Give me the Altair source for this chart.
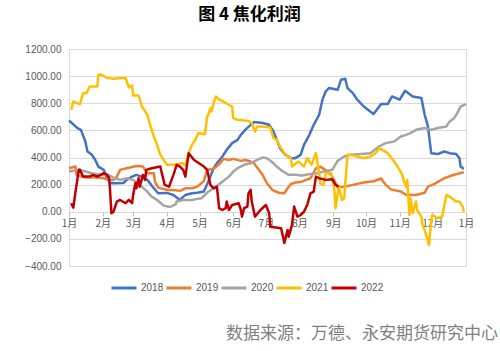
import altair as alt
import pandas as pd

TITLE = "图 4 焦化利润"
SOURCE = "数据来源：万德、永安期货研究中心"
YEARS = ["2018", "2019", "2020", "2021", "2022"]
COLORS = ["#4472C4", "#ED7D31", "#A5A5A5", "#FFC000", "#C00000"]
MONTH_TICKS = [0, 31, 59, 90, 120, 151, 181, 212, 243, 273, 304, 334, 365]
MONTH_LABELS = ["1月", "2月", "3月", "4月", "5月", "6月", "7月", "8月", "9月",
                "10月", "11月", "12月", "1月"]
Y_TICKS = [-400, -200, 0, 200, 400, 600, 800, 1000, 1200]

# day-of-year, value
d2018 = [0, 6, 9, 11, 15, 17, 21, 24, 27, 32, 35, 38, 42, 50, 53, 58, 62, 67, 72, 78,
         82, 90, 96, 102, 107, 113, 118, 124, 128, 133, 136, 141, 145, 150, 155, 158,
         162, 167, 170, 178, 184, 188, 191, 194, 199, 204, 208, 213, 216, 221, 225,
         230, 233, 236, 239, 247, 250, 254, 256, 261, 265, 271, 280, 287, 293, 297,
         304, 309, 316, 324, 327, 330, 333, 339, 345, 350, 356, 359, 360, 363]
v2018 = [673, 629, 611, 604, 518, 444, 420, 383, 333, 309, 247, 210, 210, 212, 235,
         259, 272, 259, 235, 173, 136, 139, 124, 87, 124, 136, 140, 150, 222, 321,
         358, 407, 456, 506, 530, 567, 604, 641, 661, 654, 641, 592, 530, 469, 419,
         395, 395, 419, 493, 567, 641, 715, 826, 887, 912, 899, 973, 980, 912, 875,
         826, 776, 720, 794, 794, 850, 826, 892, 850, 838, 715, 629, 432, 425, 444,
         432, 425, 395, 333, 316]

d2019 = [0, 6, 7, 15, 26, 32, 36, 41, 44, 47, 53, 62, 68, 72, 78, 79, 82, 90, 96, 102,
         107, 113, 118, 124, 127, 133, 139, 142, 147, 151, 158, 162, 167, 170, 173,
         178, 182, 187, 193, 198, 201, 204, 208, 214, 222, 227, 231, 238, 242, 247,
         253, 262, 271, 280, 287, 291, 296, 305, 310, 319, 327, 330, 336, 345, 351,
         359, 363]
v2019 = [321, 333, 272, 252, 252, 247, 235, 235, 259, 309, 321, 338, 333, 284, 284,
         222, 178, 161, 161, 154, 173, 173, 185, 227, 309, 316, 358, 390, 382, 390,
         375, 382, 370, 358, 326, 272, 210, 160, 140, 136, 173, 205, 215, 222, 247,
         320, 333, 296, 260, 180, 185, 200, 215, 225, 245, 200, 165, 150, 124, 124,
         140, 185, 205, 247, 265, 284, 291]

d2020 = [0, 10, 21, 30, 36, 42, 47, 53, 59, 65, 72, 76, 81, 87, 93, 98, 99, 105, 113,
         118, 122, 128, 135, 141, 147, 151, 156, 161, 167, 173, 178, 182, 187, 191,
         196, 202, 208, 214, 222, 228, 234, 242, 247, 253, 259, 268, 277, 285, 291,
         299, 305, 310, 314, 319, 327, 333, 339, 347, 350, 354, 357, 360, 365]
v2020 = [296, 309, 284, 272, 272, 247, 235, 247, 235, 198, 148, 111, 87, 45, 35, 55,
         75, 87, 87, 95, 100, 148, 185, 222, 259, 296, 326, 346, 358, 382, 400, 395,
         365, 333, 301, 272, 272, 267, 278, 284, 296, 309, 375, 407, 420, 425, 432,
         481, 506, 518, 555, 567, 580, 604, 617, 604, 617, 629, 666, 690, 727, 776,
         794]

d2021 = [2, 4, 7, 10, 13, 16, 19, 26, 27, 30, 35, 41, 49, 52, 55, 58, 59, 64, 67, 72,
         75, 78, 81, 84, 90, 96, 104, 107, 110, 113, 116, 119, 125, 127, 128, 130,
         131, 133, 135, 138, 142, 147, 150, 151, 155, 165, 168, 171, 173, 176, 185,
         188, 191, 194, 198, 201, 204, 205, 211, 216, 219, 223, 227, 230, 231, 234,
         236, 241, 244, 245, 248, 251, 253, 256, 259, 271, 277, 282, 285, 288, 293,
         299, 304, 307, 308, 310, 311, 313, 314, 316, 319, 320, 324, 325, 328, 331,
         333, 334, 339, 343, 347, 350, 356, 359, 362, 363]
v2021 = [752, 813, 801, 794, 875, 875, 924, 924, 1010, 1010, 986, 980, 986, 986, 917,
         931, 857, 857, 776, 715, 629, 555, 493, 420, 346, 346, 358, 346, 432, 493,
         530, 580, 572, 702, 715, 764, 739, 801, 850, 826, 813, 789, 776, 690, 678,
         670, 654, 592, 629, 629, 621, 543, 530, 481, 432, 407, 395, 333, 370, 333,
         395, 346, 432, 284, 210, 198, 284, 284, 161, 26, 185, 87, 100, 420, 420,
         395, 407, 432, 469, 456, 432, 370, 309, 259, 222, 185, 235, -24, 100, -11,
         75, 13, -36, -97, -159, -245, -61, -24, -48, -36, 124, 111, 75, 75, 38, 0]

d2022 = [2, 4, 6, 9, 10, 13, 19, 22, 26, 29, 32, 35, 37, 38, 39, 41, 42, 44, 47, 52,
         55, 58, 59, 61, 62, 64, 65, 68, 70, 71, 76, 84, 85, 88, 92, 96, 99, 102, 105,
         107, 110, 115, 124, 127, 128, 130, 133, 136, 138, 141, 144, 145, 147, 150,
         156, 158, 159, 161, 164, 165, 167, 168, 171, 176, 181, 184, 185, 195, 198,
         201, 202, 205, 207, 210, 213, 216, 219, 222, 225, 227, 230, 236, 242, 245,
         248]
v2022 = [63, 30, 148, 309, 309, 259, 259, 272, 259, 272, 284, 272, 247, 124, -11, 0,
         26, 75, 87, 63, 87, 63, 124, 210, 173, 247, 185, 272, 235, 309, 321, 333, 296,
         198, 185, 272, 346, 333, 309, 259, 432, 382, 333, 309, 272, 198, 173, 185, 26,
         13, 26, 75, 13, 50, 63, 13, -36, 26, 38, 136, 161, 75, -36, 13, 50, -11, -110,
         -122, -230, -134, -184, -97, 38, -36, -24, 0, 50, 136, 148, 259, 247, 235, 240,
         198, 185]

series = {"2018": (d2018, v2018), "2019": (d2019, v2019), "2020": (d2020, v2020),
          "2021": (d2021, v2021), "2022": (d2022, v2022)}
rows = []
for yr, (ds, vs) in series.items():
    for i, (d, v) in enumerate(zip(ds, vs)):
        rows.append({"year": yr, "day": d, "value": v, "idx": i})
df = pd.DataFrame(rows)

label_expr = "[" + ",".join(f"'{m}'" for m in MONTH_LABELS) + "][indexof([" + \
    ",".join(str(t) for t in MONTH_TICKS) + "], datum.value)]"

W, H = 397, 217

base = alt.Chart(df)
layers = []
for i, yr in enumerate(YEARS):
    enc = dict(
        x=alt.X("day:Q", scale=alt.Scale(domain=[0, 365], nice=False, zero=False),
                axis=alt.Axis(values=MONTH_TICKS, labelExpr=label_expr, grid=False,
                              domain=False, ticks=True, tickSize=4, tickColor="#BFBFBF",
                              labelPadding=2, labelFlush=False, offset=-54,
                              labelFont="Noto Sans CJK SC", labelFontSize=10,
                              labelColor="#595959", title=None)),
        y=alt.Y("value:Q", scale=alt.Scale(domain=[-400, 1200], nice=False),
                axis=alt.Axis(values=Y_TICKS, format=".2f", grid=True,
                              gridColor="#D9D9D9", domain=False, ticks=False,
                              labelPadding=8, labelFont="Liberation Sans",
                              labelFontSize=10, labelColor="#595959", title=None)),
        color=alt.Color("year:N", scale=alt.Scale(domain=YEARS, range=COLORS),
                        legend=alt.Legend(orient="none", direction="horizontal",
                                          legendX=41, legendY=225, title=None,
                                          symbolType="stroke", symbolSize=625,
                                          symbolStrokeWidth=3, labelOffset=3,
                                          columnPadding=-4, padding=0,
                                          labelFont="Liberation Sans",
                                          labelFontSize=10, labelColor="#595959")),
        order="idx:Q",
    )
    layers.append(
        base.transform_filter(alt.datum.year == yr)
        .mark_line(strokeWidth=2.5, strokeJoin="round")
        .encode(**enc)
    )

src = alt.Chart(pd.DataFrame({"t": [SOURCE]})).mark_text(
    align="right", baseline="middle", font="Noto Sans CJK SC", fontSize=17,
    color="#7F7F7F"
).encode(x=alt.value(429), y=alt.value(285), text="t:N")

chart = alt.layer(*layers, src).properties(
    width=W, height=H,
    title=alt.TitleParams(TITLE, font="Noto Sans CJK SC", fontSize=17,
                          fontWeight="bold", color="#000000", anchor="middle",
                          dx=-18, offset=20),
    autosize=alt.AutoSizeParams(type="none"),
    padding={"left": 69, "top": 49, "right": 34, "bottom": 85},
).configure_view(stroke=None).configure(background="white")

chart.save("out.html", embed_options={"renderer": "svg", "actions": False})
